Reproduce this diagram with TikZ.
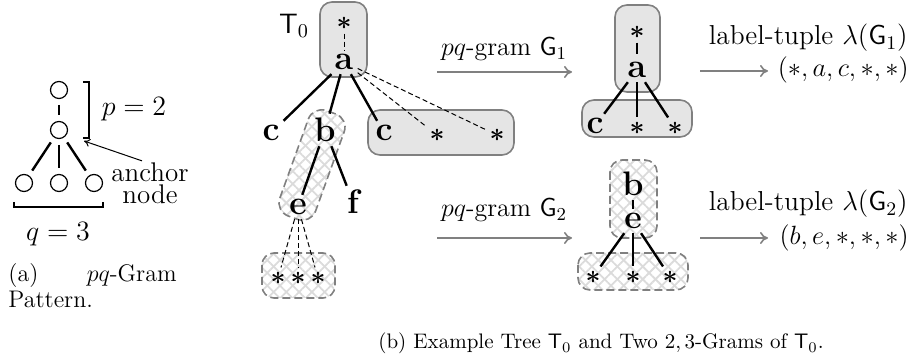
\RequirePackage{fix-cm}
\documentclass[tikz,border=0pt]{standalone}
\usetikzlibrary{arrows.meta,patterns.meta}
\begin{document}
\begin{tikzpicture}[x=0.5pt,y=-0.5pt,
  every node/.style={inner sep=0pt, font=\fontsize{13}{15.6}\selectfont},
  pc/.style={circle, draw, line width=0.6pt, minimum size=8.5pt, outer sep=3.2pt},
  pe/.style={line width=1.2pt},
  alab/.style={font=\fontsize{14}{16.8}\selectfont},
  tl/.style={inner sep=2pt, font=\fontsize{17}{20}\selectfont\bfseries},
  ts/.style={inner sep=2pt, font=\fontsize{13}{15.6}\selectfont\boldmath},
  te/.style={line width=1.2pt},
  td/.style={line width=0.5pt, dash pattern=on 2.5pt off 1.5pt},
  gbox/.style={fill=black!10, draw=black!50, line width=0.8pt, rounded corners=6pt},
  hbox/.style={draw=black!50, line width=0.8pt, dash pattern=on 4pt off 2pt, rounded corners=6pt,
     preaction={pattern={Lines[angle=45,distance=4.5pt,line width=0.9pt]}, pattern color=black!14},
     preaction={pattern={Lines[angle=-45,distance=4.5pt,line width=0.9pt]}, pattern color=black!14}},
  garrow/.style={draw=black!50, line width=0.8pt, -{To[length=4pt,width=6pt]}},
  rlab/.style={font=\fontsize{13.7}{16.4}\selectfont},
  tlab/.style={font=\fontsize{13.2}{15.8}\selectfont},
  captxt/.style={font=\fontsize{12}{14.4}\selectfont},
  captxtb/.style={font=\fontsize{10.5}{12.6}\selectfont}
]
\useasboundingbox (0,0) rectangle (916,362);

% ---------- panel (a) ----------
\node[pc] (r) at (59,90) {};
\node[pc] (m) at (59,130) {};
\node[pc] (l1) at (24,183) {};
\node[pc] (l2) at (59,183) {};
\node[pc] (l3) at (94,183) {};
\draw[pe] (r) -- (m);
\draw[pe] (m) -- (l1);
\draw[pe] (m) -- (l2);
\draw[pe] (m) -- (l3);
\draw[line width=0.6pt] (83,82) -- (89,82) -- (89,138) -- (83,138);
\draw[line width=0.6pt] (14,202) -- (14,207) -- (103,207) -- (103,202);
\node[alab] (plab) at (134,109) {$p=2$};
\node[alab] (qlab) at (58,234) {$q=3$};
\node[font=\fontsize{13.5}{16}\selectfont, anchor=base] (anc) at (150,182) {anchor};
\node[font=\fontsize{13.5}{16}\selectfont, anchor=base] (anc2) at (150,203.5) {node};
\coordinate (ap) at (84,141);
\draw[line width=0.5pt, -{To[length=3pt,width=4pt]}] ([xshift=-4pt,yshift=1pt]anc.north) -- (ap);
\node[captxt, anchor=base west] (ca1) at (8,282) {(a)};
\node[captxt, anchor=base east] (ca2) at (177,282) {$pq$-Gram};
\node[captxt, anchor=base west] (ca3) at (8,308) {Pattern.};

% ---------- panel (b): tree T0 ----------
\node[font=\fontsize{14}{16.8}\selectfont] (t0) at (294,26) {$\mathsf{T}_0$};
\path[gbox] (320,2) rectangle (367,77);
\path[gbox] (368,110) rectangle (514,155);
\path[hbox, rounded corners=7pt] (348.9,118.7) -- (313.1,105.9) -- (275.1,211.3) -- (310.9,224.1) -- cycle;
\path[hbox] (262,253) rectangle (335,298);

\node[ts] (rs) at (344,23) {$\ast$};
\node[tl] (a) at (344,62) {a};
\node[tl] (c1) at (271,133) {c};
\node[tl] (b) at (325,130) {b};
\node[tl] (c2) at (384,133) {c};
\node[ts] (s1) at (437,135) {$\ast$};
\node[ts] (s2) at (497,135) {$\ast$};
\node[tl] (e) at (298,207) {e};
\node[tl] (f) at (353,202) {f};
\node[ts] (s3) at (278,278) {$\ast$};
\node[ts] (s4) at (298,278) {$\ast$};
\node[ts] (s5) at (318,278) {$\ast$};

\draw[td] (rs) -- (a);
\draw[te] (a) -- (c1);
\draw[te] (a) -- (b);
\draw[te] (a) -- (c2);
\draw[td] (a) -- (s1);
\draw[td] (a) -- (s2);
\draw[te] (b) -- (e);
\draw[te] (b) -- (f);
\draw[td] (e) -- (s3);
\draw[td] (e) -- (s4);
\draw[td] (e) -- (s5);

% ---------- arrows to pq-grams ----------
\coordinate (g1s) at (437,72);
\coordinate (g1e) at (572,72);
\draw[garrow] (g1s) -- (g1e);
\node[anchor=base] (pq1) at (504,56) {$pq$-gram $\mathsf{G}_1$};
\coordinate (g2s) at (437,238);
\coordinate (g2e) at (572,238);
\draw[garrow] (g2s) -- (g2e);
\node[anchor=base] (pq2) at (504,217) {$pq$-gram $\mathsf{G}_2$};

% ---------- G1 ----------
\path[gbox] (615,5) rectangle (660,92);
\path[gbox] (582,100) rectangle (692,137);
\node[ts] (g1r) at (637,32) {$\ast$};
\node[tl] (g1a) at (637,70) {a};
\node[tl] (g1c) at (595,126) {c};
\node[ts] (g1s1) at (637,128) {$\ast$};
\node[ts] (g1s2) at (675,128) {$\ast$};
\draw[te, shorten >=2pt] (g1r) -- (g1a);
\draw[te] (g1a) -- (g1c);
\draw[te] (g1a) -- (g1s1);
\draw[te] (g1a) -- (g1s2);

% ---------- G2 ----------
\path[hbox] (610,160) rectangle (657,238);
\path[hbox] (578,253) rectangle (688,290);
\node[tl] (g2b) at (633,184) {b};
\node[tl] (g2e) at (633,221) {e};
\node[ts] (g2s1) at (593,277) {$\ast$};
\node[ts] (g2s2) at (633,277) {$\ast$};
\node[ts] (g2s3) at (670,277) {$\ast$};
\draw[te] (g2b) -- (g2e);
\draw[te] (g2e) -- (g2s1);
\draw[te] (g2e) -- (g2s2);
\draw[te] (g2e) -- (g2s3);

% ---------- label tuples ----------
\node[rlab, anchor=base east] (lt1) at (908,45) {label-tuple $\lambda(\mathsf{G}_1)$};
\node[tlab, anchor=base east] (tp1) at (909,77) {$(\ast,a,c,\ast,\ast)$};
\coordinate (u1s) at (700,71);
\coordinate (u1e) at (768,71);
\draw[garrow] (u1s) -- (u1e);
\node[rlab, anchor=base east] (lt2) at (908,211) {label-tuple $\lambda(\mathsf{G}_2)$};
\node[tlab, anchor=base east] (tp2) at (909,245) {$(b,e,\ast,\ast,\ast)$};
\coordinate (u2s) at (700,238);
\coordinate (u2e) at (768,238);
\draw[garrow] (u2s) -- (u2e);

% ---------- caption (b) ----------
\node[captxtb, anchor=base] (capb) at (601,349) {(b) Example Tree $\mathsf{T}_0$ and Two $2,3$-Grams of $\mathsf{T}_0$.};
\end{tikzpicture}
\end{document}
